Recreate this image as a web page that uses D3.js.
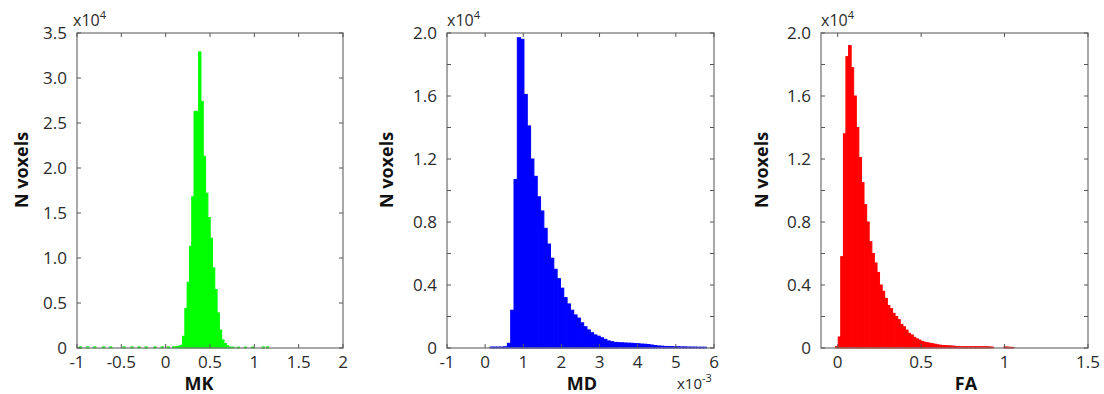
<!DOCTYPE html>
<html>
<head>
<meta charset="utf-8">
<script src="https://cdn.jsdelivr.net/npm/d3@7"></script>
<style>
  html, body { margin: 0; padding: 0; background: #fff; }
  svg { display: block; }
  text { font-family: "Open Sans", "Liberation Sans", sans-serif; }
</style>
</head>
<body>
<svg id="chart" width="1104" height="394"></svg>
<script>
// ---------------- DATA ----------------
// MK histogram: bin centres and voxel counts
const mkBinWidth = 0.026;
const mkCenters = [-0.96, -0.88, -0.80, -0.70, -0.62, -0.47, -0.38, -0.30, -0.22, -0.12, -0.04, 0.03, 0.09, 0.125, 0.151,
  0.177, 0.203, 0.229, 0.255, 0.281, 0.307, 0.333, 0.359, 0.385, 0.411, 0.437, 0.463, 0.489, 0.515, 0.541, 0.567,
  0.593, 0.619, 0.645, 0.671, 0.697, 0.723, 0.76, 0.82, 0.90, 0.98, 1.10, 1.15];
const mkCounts = [120, 120, 120, 120, 120, 120, 120, 120, 120, 120, 120, 120, 130, 150, 200,
  300, 1300, 4400, 7300, 11300, 16800, 26300, 26300, 32900, 27400, 21300, 17200, 14500, 12200, 8900, 6500,
  3900, 2000, 900, 500, 250, 120, 100, 100, 100, 100, 120, 120];

// MD histogram (units of 10^-3 mm^2/s)
const mdBinWidth = 0.087;
const mdCenters = [0.17, 0.26, 0.35, 0.44, 0.53, 0.626, 0.713, 0.800, 0.887, 0.974, 1.061, 1.148, 1.235, 1.322, 1.409,
  1.496, 1.583, 1.670, 1.757, 1.844, 1.931, 2.018, 2.105, 2.192, 2.279, 2.366, 2.453, 2.540, 2.627, 2.714,
  2.801, 2.888, 2.975, 3.062, 3.149, 3.236, 3.323, 3.410, 3.497, 3.584, 3.671, 3.758, 3.845, 3.932, 4.019,
  4.106, 4.193, 4.280, 4.367, 4.454, 4.541, 4.628, 4.715, 4.802, 4.889, 4.976, 5.063, 5.150, 5.237, 5.324,
  5.411, 5.498, 5.585, 5.672, 5.759];
const mdCounts = [60, 60, 60, 60, 80, 300, 2400, 10700, 19700, 19600, 16100, 14100, 12000, 10900, 9600,
  8700, 7600, 6600, 5700, 5000, 4400, 3800, 3200, 2800, 2400, 2100, 1900, 1600, 1350, 1150,
  970, 830, 750, 650, 550, 450, 400, 360, 340, 330, 320, 310, 300, 280, 270,
  250, 240, 220, 190, 160, 130, 120, 100, 90, 90, 80, 80, 70, 70, 60,
  60, 60, 50, 50, 50];

// FA histogram
const faBinWidth = 0.0155;
const faCenters = [-0.005, 0.011, 0.026, 0.042, 0.057, 0.073, 0.088, 0.104, 0.119, 0.135, 0.150, 0.166, 0.181, 0.197,
  0.212, 0.228, 0.243, 0.259, 0.274, 0.290, 0.305, 0.321, 0.336, 0.352, 0.367, 0.383, 0.398, 0.414, 0.429,
  0.445, 0.460, 0.476, 0.491, 0.507, 0.522, 0.538, 0.553, 0.569, 0.584, 0.600, 0.615, 0.631, 0.646, 0.662,
  0.677, 0.693, 0.708, 0.724, 0.739, 0.755, 0.770, 0.786, 0.801, 0.817, 0.832, 0.848, 0.863, 0.879, 0.894,
  0.910, 0.925, 1.003, 1.018, 1.034, 1.049];
const faCounts = [100, 700, 5800, 13600, 18500, 19200, 17800, 16000, 14000, 12100, 10500, 9100, 8000, 6750,
  6000, 5400, 4800, 4000, 3600, 3150, 2700, 2500, 2200, 2000, 1800, 1500, 1350, 1140, 930,
  830, 680, 580, 500, 420, 370, 330, 300, 270, 240, 200, 180, 160, 150, 140,
  130, 120, 100, 90, 80, 80, 80, 80, 80, 80, 80, 80, 80, 80, 80,
  70, 60, 60, 60, 40, 40];

// Axis tick values and labels
const mkXTicks = [-1, -0.5, 0, 0.5, 1, 1.5, 2];
const mkXLabels = ["-1", "-0.5", "0", "0.5", "1", "1.5", "2"];
const mkYTicks = [0, 5000, 10000, 15000, 20000, 25000, 30000, 35000];
const mkYLabels = ["0", "0.5", "1.0", "1.5", "2.0", "2.5", "3.0", "3.5"];

const mdXTicks = [-1, 0, 1, 2, 3, 4, 5, 6];
const mdXLabels = ["-1", "0", "1", "2", "3", "4", "5", "6"];
const mdYTicks = [0, 2000, 4000, 6000, 8000, 10000, 12000, 14000, 16000, 18000, 20000];
const mdYLabels = ["0", "", "0.4", "", "0.8", "", "1.2", "", "1.6", "", "2.0"];

const faXTicks = [0, 0.5, 1, 1.5];
const faXLabels = ["0", "0.5", "1", "1.5"];
const faYTicks = mdYTicks;
const faYLabels = mdYLabels;

// ---------------- LAYOUT ----------------
const plotTop = 33, plotBottom = 348;
const panels = [
  { left: 77, right: 343, xDomain: [-1, 2], yMax: 35000, centers: mkCenters, counts: mkCounts, bw: mkBinWidth,
    color: "#00ff00", xTicks: mkXTicks, xLabels: mkXLabels, yTicks: mkYTicks, yLabels: mkYLabels,
    title: "MK", titleX: 199, ylabX: 28, expX: -4, xExp: false },
  { left: 447, right: 714, xDomain: [-1, 6], yMax: 20000, centers: mdCenters, counts: mdCounts, bw: mdBinWidth,
    color: "#0000ff", xTicks: mdXTicks, xLabels: mdXLabels, yTicks: mdYTicks, yLabels: mdYLabels,
    title: "MD", titleX: 582, ylabX: 393, expX: 0, xExp: true },
  { left: 821, right: 1088, xDomain: [-0.1, 1.5], yMax: 20000, centers: faCenters, counts: faCounts, bw: faBinWidth,
    color: "#ff0000", xTicks: faXTicks, xLabels: faXLabels, yTicks: faYTicks, yLabels: faYLabels,
    title: "FA", titleX: 966, ylabX: 768, expX: 0, xExp: false }
];

const svg = d3.select("#chart");
const tickLen = 4;
const frameColor = "#7a7a7a";
const labelColor = "#2b2b2b";

panels.forEach(p => {
  const x = d3.scaleLinear().domain(p.xDomain).range([p.left, p.right]);
  const y = d3.scaleLinear().domain([0, p.yMax]).range([plotBottom, plotTop]);
  const g = svg.append("g");

  // bars
  g.append("g").selectAll("rect")
    .data(p.centers.map((c, i) => ({ c, v: p.counts[i] })))
    .join("rect")
    .attr("x", d => x(d.c - p.bw / 2))
    .attr("width", d => Math.max(0.5, x(d.c + p.bw / 2) - x(d.c - p.bw / 2)))
    .attr("y", d => y(d.v))
    .attr("height", d => plotBottom - y(d.v))
    .attr("fill", p.color)
    .attr("stroke", p.color)
    .attr("stroke-width", 1);

  // frame
  g.append("rect")
    .attr("x", p.left).attr("y", plotTop)
    .attr("width", p.right - p.left).attr("height", plotBottom - plotTop)
    .attr("fill", "none").attr("stroke", frameColor).attr("stroke-width", 1.3);

  // x ticks (bottom & top, inward)
  p.xTicks.forEach((t, i) => {
    const xx = x(t);
    g.append("line").attr("x1", xx).attr("x2", xx).attr("y1", plotBottom).attr("y2", plotBottom - tickLen)
      .attr("stroke", "#555").attr("stroke-width", 1);
    g.append("line").attr("x1", xx).attr("x2", xx).attr("y1", plotTop).attr("y2", plotTop + tickLen)
      .attr("stroke", "#555").attr("stroke-width", 1);
    g.append("text").attr("x", xx).attr("y", plotBottom + 20)
      .attr("text-anchor", "middle").attr("font-size", 17).attr("fill", labelColor)
      .text(p.xLabels[i]);
  });

  // y ticks (left & right, inward)
  p.yTicks.forEach((t, i) => {
    const yy = y(t);
    g.append("line").attr("x1", p.left).attr("x2", p.left + tickLen).attr("y1", yy).attr("y2", yy)
      .attr("stroke", "#555").attr("stroke-width", 1);
    g.append("line").attr("x1", p.right).attr("x2", p.right - tickLen).attr("y1", yy).attr("y2", yy)
      .attr("stroke", "#555").attr("stroke-width", 1);
    if (p.yLabels[i] !== "") {
      g.append("text").attr("x", p.left - 10).attr("y", yy + 6)
        .attr("text-anchor", "end").attr("font-size", 17).attr("fill", labelColor)
        .text(p.yLabels[i]);
    }
  });

  // x10^4 multiplier
  const e = g.append("text").attr("x", p.left + p.expX).attr("y", 26).attr("font-size", 16).attr("fill", labelColor);
  e.append("tspan").text("x10");
  e.append("tspan").attr("font-size", 11).attr("dy", -7).text("4");

  // x10^-3 multiplier for MD
  if (p.xExp) {
    const e2 = g.append("text").attr("x", p.right - 37).attr("y", 389).attr("font-size", 15).attr("fill", labelColor);
    e2.append("tspan").text("x10");
    e2.append("tspan").attr("font-size", 11).attr("dy", -7).text("-3");
  }

  // axis titles
  g.append("text").attr("x", p.titleX).attr("y", 390)
    .attr("text-anchor", "middle").attr("font-size", 18).attr("font-weight", "bold").attr("fill", "#111")
    .text(p.title);
  g.append("text")
    .attr("transform", `translate(${p.ylabX},170) rotate(-90)`)
    .attr("text-anchor", "middle").attr("font-size", 18).attr("font-weight", "bold").attr("fill", "#111")
    .text("N voxels");
});
</script>
</body>
</html>
